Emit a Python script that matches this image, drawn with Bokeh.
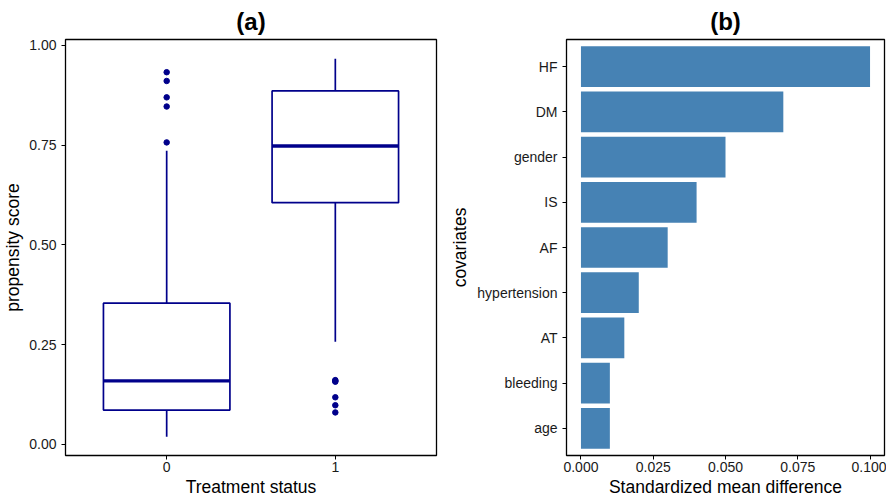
import numpy as np
from bokeh.plotting import figure
from bokeh.layouts import row
from bokeh.models import Range1d, FixedTicker, NumeralTickFormatter
from bokeh.embed import file_html
from bokeh.resources import INLINE

# ---- data: panel (a) boxplot ----
groups = ["0", "1"]
group_pos = [0, 1]
q1 = [0.086, 0.606]
median = [0.159, 0.748]
q3 = [0.354, 0.886]
whisker_low = [0.019, 0.257]
whisker_high = [0.736, 0.967]
outliers_0 = [0.933, 0.911, 0.870, 0.847, 0.757]
outliers_1 = [0.161, 0.159, 0.157, 0.118, 0.098, 0.080]

# ---- data: panel (b) bars (bottom to top) ----
covariates = ["age", "bleeding", "AT", "hypertension", "AF", "IS", "gender", "DM", "HF"]
smd = [0.010, 0.010, 0.015, 0.020, 0.030, 0.040, 0.050, 0.070, 0.100]

FONT = "Liberation Sans"
NAVY = "#00008B"
STEEL = "#4682B4"
TXT = "#1a1a1a"
H = 499


def style(p):
    p.title.align = "center"
    p.title.text_font = FONT
    p.title.text_font_size = "24px"
    p.title.text_font_style = "bold"
    p.title.text_color = "black"
    p.title.standoff = 10
    p.outline_line_color = "black"
    p.outline_line_width = 1.3
    p.outline_line_alpha = 1.0
    p.xgrid.visible = False
    p.ygrid.visible = False
    for ax in (p.xaxis[0], p.yaxis[0]):
        ax.axis_line_color = None
        ax.major_tick_line_color = "black"
        ax.major_tick_line_width = 1
        ax.major_tick_out = 4
        ax.major_tick_in = 0
        ax.minor_tick_line_color = None
        ax.major_label_text_font = FONT
        ax.major_label_text_font_size = "14px"
        ax.major_label_text_color = TXT
        ax.axis_label_text_font = FONT
        ax.axis_label_text_font_size = "17.5px"
        ax.axis_label_text_font_style = "normal"
        ax.axis_label_text_color = "black"
    p.xaxis.major_label_standoff = 2
    p.xaxis.axis_label_standoff = 2
    p.yaxis.major_label_standoff = 5


# ---- panel (a) ----
p1 = figure(width=438, height=H, output_backend="svg", toolbar_location=None,
            x_range=Range1d(-0.6, 1.6), y_range=Range1d(-0.028, 1.015),
            title="(a)", min_border_left=63, min_border_right=2,
            min_border_top=0, min_border_bottom=0)
style(p1)
p1.xaxis.axis_label = "Treatment status"
p1.yaxis.axis_label = "propensity score"
p1.yaxis.axis_label_standoff = 3
p1.xaxis.ticker = FixedTicker(ticks=group_pos)
p1.xaxis.major_label_overrides = {g: lab for g, lab in zip(group_pos, groups)}
p1.yaxis.ticker = FixedTicker(ticks=[0, 0.25, 0.5, 0.75, 1.0])
p1.yaxis.formatter = NumeralTickFormatter(format="0.00")

gp = np.array(group_pos, dtype=float)
half = 0.375
p1.segment(x0=gp, x1=gp, y0=q3, y1=whisker_high, line_color=NAVY, line_width=1.7)
p1.segment(x0=gp, x1=gp, y0=whisker_low, y1=q1, line_color=NAVY, line_width=1.7)
p1.vbar(x=gp, width=2 * half, bottom=q1, top=q3, fill_color="white",
        line_color=NAVY, line_width=1.7)
p1.segment(x0=gp - half, x1=gp + half, y0=median, y1=median, line_color=NAVY, line_width=3.4)
p1.scatter(x=[0] * len(outliers_0), y=outliers_0, marker="circle", size=5.5,
           fill_color=NAVY, line_color=NAVY)
p1.scatter(x=[1] * len(outliers_1), y=outliers_1, marker="circle", size=5.5,
           fill_color=NAVY, line_color=NAVY)

# ---- panel (b) ----
ypos = list(range(1, len(covariates) + 1))
p2 = figure(width=448, height=H, output_backend="svg", toolbar_location=None,
            x_range=Range1d(-0.005, 0.105), y_range=Range1d(0.4, len(covariates) + 0.6),
            title="(b)", min_border_left=128, min_border_right=2,
            min_border_top=0, min_border_bottom=0)
style(p2)
p2.xaxis.axis_label = "Standardized mean difference"
p2.yaxis.axis_label = "covariates"
p2.yaxis.axis_label_standoff = 4
p2.xaxis.ticker = FixedTicker(ticks=[0, 0.025, 0.05, 0.075, 0.1])
p2.xaxis.formatter = NumeralTickFormatter(format="0.000")
p2.yaxis.ticker = FixedTicker(ticks=ypos)
p2.yaxis.major_label_overrides = {y: c for y, c in zip(ypos, covariates)}
p2.hbar(y=ypos, left=0, right=smd, height=0.9, fill_color=STEEL, line_color=None)

layout = row(p1, p2)
open("out.html", "w").write(file_html(layout, INLINE))
